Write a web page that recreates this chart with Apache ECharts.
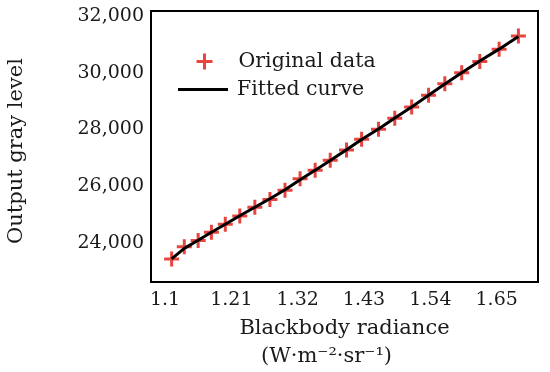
<!DOCTYPE html>
<html>
<head>
<meta charset="utf-8">
<script src="https://cdn.jsdelivr.net/npm/echarts@6/dist/echarts.min.js"></script>
<style>html,body{margin:0;padding:0;background:#fff}#c{width:550px;height:372px}</style>
</head>
<body>
<div id="c"></div>
<script>
// Data
const radiance = [1.111, 1.132, 1.155, 1.177, 1.200, 1.224, 1.249, 1.274, 1.299, 1.324, 1.349, 1.374, 1.401, 1.426, 1.454, 1.481, 1.509, 1.537, 1.564, 1.592, 1.622, 1.654, 1.686];
const grayLevel = [23426, 23857, 24079, 24370, 24656, 24940, 25255, 25525, 25855, 26260, 26554, 26913, 27271, 27648, 28007, 28394, 28785, 29201, 29607, 30001, 30396, 30826, 31293];
const fittedLevel = [23430, 23800, 24090, 24370, 24650, 24950, 25250, 25550, 25870, 26220, 26560, 26900, 27280, 27640, 28010, 28400, 28790, 29200, 29600, 30000, 30410, 30830, 31280];
const xTicks = [1.1, 1.21, 1.32, 1.43, 1.54, 1.65];
const yTicks = [24000, 26000, 28000, 30000, 32000];
const seriesNames = ['Original data', 'Fitted curve'];

const FONT = 'DejaVu Serif';
const TXT = '#1a1a1a';
const RED = '#e0180f';
const plusPath = 'path://M0,8L16,8M8,0L8,16';

const chart = echarts.init(document.getElementById('c'), null, {renderer: 'canvas'});
chart.setOption({
  animation: false,
  backgroundColor: '#fff',
  grid: {left: 151, right: 12, top: 11, bottom: 90, show: true, borderColor: '#000', borderWidth: 2,
    backgroundColor: 'transparent', outerBoundsMode: 'none', containLabel: false},
  legend: [
    {
      data: [{name: seriesNames[0], icon: plusPath, itemStyle: {color: 'transparent', borderColor: RED, borderWidth: 3}}],
      left: 195, top: 51, padding: 0, itemWidth: 16, itemHeight: 16,
      textStyle: {fontFamily: FONT, fontSize: 20.5, color: TXT, padding: [0, 0, 0, 21]}
    },
    {
      data: [{name: seriesNames[1], icon: 'rect', itemStyle: {color: '#000'}}],
      left: 178, top: 79, padding: 0, itemWidth: 50, itemHeight: 3,
      textStyle: {fontFamily: FONT, fontSize: 20.5, color: TXT, padding: [0, 0, 0, 4]}
    }
  ],
  xAxis: {
    type: 'value', min: 1.0768, max: 1.7185,
    axisLine: {show: false}, axisTick: {show: false}, splitLine: {show: false},
    axisLabel: {customValues: xTicks, margin: 9, fontFamily: FONT, fontSize: 19, color: TXT,
      formatter: v => String(+(+v).toFixed(2))},
    name: '{a|Blackbody radiance}\n{b|(W·m⁻²·sr⁻¹)}',
    nameLocation: 'middle', nameGap: 32,
    nameTextStyle: {
      fontFamily: FONT, fontSize: 21, color: TXT, lineHeight: 28,
      rich: {
        a: {fontFamily: FONT, fontSize: 21, color: TXT, lineHeight: 28},
        b: {fontFamily: FONT, fontSize: 21, color: TXT, lineHeight: 28, padding: [0, 36, 0, 0]}
      }
    }
  },
  yAxis: {
    type: 'value', min: 22615, max: 32176,
    axisLine: {show: false}, axisTick: {show: false}, splitLine: {show: false},
    axisLabel: {customValues: yTicks, margin: 7, fontFamily: FONT, fontSize: 19, color: TXT,
      formatter: v => Math.round(v).toLocaleString('en-US')},
    name: 'Output gray level', nameLocation: 'middle', nameGap: 124,
    nameTextStyle: {fontFamily: FONT, fontSize: 21, color: TXT, padding: [0, 9, 0, 0]}
  },
  series: [
    {
      name: seriesNames[0], type: 'scatter', z: 2,
      symbol: plusPath, symbolSize: 15,
      itemStyle: {color: 'transparent', borderColor: RED, borderWidth: 3},
      data: radiance.map((x, i) => [x, grayLevel[i]])
    },
    {
      name: seriesNames[1], type: 'line', z: 3,
      symbol: 'none', smooth: false,
      lineStyle: {color: '#000', width: 3},
      itemStyle: {color: '#000'},
      data: radiance.map((x, i) => [x, fittedLevel[i]])
    }
  ]
});
</script>
</body>
</html>
